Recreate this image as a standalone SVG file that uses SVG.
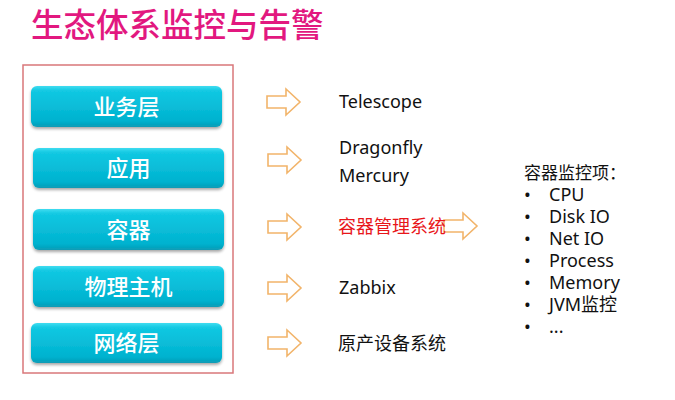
<svg xmlns="http://www.w3.org/2000/svg" width="675" height="400" viewBox="0 0 675 400">
<defs>
<linearGradient id="g" x1="0" y1="0" x2="0" y2="1">
<stop offset="0" stop-color="#3fdcf0"/>
<stop offset="0.12" stop-color="#12c8e2"/>
<stop offset="0.85" stop-color="#00b2cf"/>
<stop offset="1" stop-color="#0a9bb5"/>
</linearGradient>
<filter id="sh" x="-10%" y="-20%" width="120%" height="150%">
<feGaussianBlur in="SourceAlpha" stdDeviation="1.5"/>
<feOffset dx="0" dy="2" result="b"/>
<feComponentTransfer><feFuncA type="linear" slope="0.35"/></feComponentTransfer>
<feMerge><feMergeNode/><feMergeNode in="SourceGraphic"/></feMerge>
</filter>
<path id="arr" d="M0,-6 H19 V-13 L33,0 L19,13 V6 H0 Z" fill="none" stroke="#f2b46a" stroke-width="1.6" stroke-linejoin="miter"/>
</defs>
<style>
.box{fill:url(#g);filter:url(#sh)}
.bl{font-family:"Noto Sans CJK SC","Noto Sans",sans-serif;font-size:22px;fill:#fff;text-anchor:middle;font-weight:500}
.t{font-family:"Noto Sans","Noto Sans CJK SC",sans-serif;font-size:18px;fill:#111}
.c{font-family:"Noto Sans CJK SC",sans-serif;font-size:18px;fill:#111}
.r{font-family:"Noto Sans CJK SC",sans-serif;font-size:18px;fill:#e8161a}
</style>
<rect width="675" height="400" fill="#fff"/>
<text x="31" y="37" font-family="Noto Sans CJK SC,sans-serif" font-size="32.5" fill="#e2187f" font-weight="500">生态体系监控与告警</text>
<rect x="23" y="65" width="210" height="308" fill="none" stroke="#d9777a" stroke-width="1.5"/>
<g id="n1"><rect class="box" x="31" y="86" width="191" height="41" rx="6"/><text class="bl" x="126.5" y="114.5">业务层</text></g>
<g id="n2"><rect class="box" x="33" y="148" width="191" height="40" rx="6"/><text class="bl" x="128.5" y="176">应用</text></g>
<g id="n3"><rect class="box" x="33" y="209" width="191" height="41" rx="6"/><text class="bl" x="128.5" y="237.5">容器</text></g>
<g id="n4"><rect class="box" x="33" y="266" width="191" height="41" rx="6"/><text class="bl" x="128.5" y="294.5">物理主机</text></g>
<g id="n5"><rect class="box" x="31" y="323" width="191" height="40" rx="6"/><text class="bl" x="126.5" y="351">网络层</text></g>
<g id="connectors">
<use href="#arr" x="267" y="102"/>
<use href="#arr" x="268" y="160"/>
<use href="#arr" x="268" y="227"/>
<use href="#arr" x="268" y="288"/>
<use href="#arr" x="268" y="343"/>
<use href="#arr" x="444" y="226"/>
</g>
<g id="labels">
<text class="t" x="339" y="108">Telescope</text>
<text class="t" x="339" y="154">Dragonfly</text>
<text class="t" x="339" y="182">Mercury</text>
<text class="r" x="338" y="233">容器管理系统</text>
<text class="t" x="339" y="294">Zabbix</text>
<text class="c" x="338" y="350">原产设备系统</text>
</g>
<g id="list" font-family="Noto Sans,Noto Sans CJK SC,sans-serif" font-size="18" fill="#111">
<text x="524" y="179" font-family="Noto Sans CJK SC,sans-serif" font-size="17">容器监控项：</text>
<text x="524" y="201">•</text><text x="549" y="201">CPU</text>
<text x="524" y="223">•</text><text x="549" y="223">Disk IO</text>
<text x="524" y="245">•</text><text x="549" y="245">Net IO</text>
<text x="524" y="267">•</text><text x="549" y="267">Process</text>
<text x="524" y="289">•</text><text x="549" y="289">Memory</text>
<text x="524" y="311">•</text><text x="549" y="311">JVM监控</text>
<text x="524" y="333">•</text><text x="549" y="333">...</text>
</g>
</svg>
